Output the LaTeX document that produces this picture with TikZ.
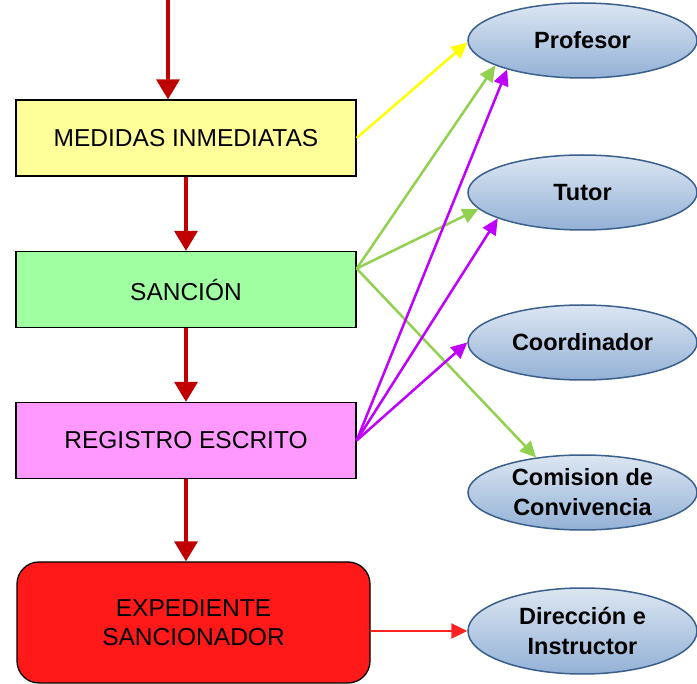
\documentclass[tikz,border=0pt]{standalone}
\usepackage{fontspec}
\setmainfont{Liberation Sans}
\usetikzlibrary{arrows.meta,shapes.geometric}
\definecolor{flowred}{HTML}{C00000}
\definecolor{boxyellow}{HTML}{FFFF99}
\definecolor{boxgreen}{HTML}{A0FFA0}
\definecolor{boxpink}{HTML}{FF99FF}
\definecolor{boxred}{HTML}{FF1919}
\definecolor{elltop}{HTML}{DCE6F2}
\definecolor{ellbot}{HTML}{93B1D6}
\definecolor{ellline}{HTML}{3A5F8C}
\definecolor{linkyellow}{HTML}{FFFF00}
\definecolor{linkgreen}{HTML}{92D050}
\definecolor{linkpurple}{HTML}{BF00FF}
\definecolor{linkred}{HTML}{FF2020}
\tikzset{
  box/.style={draw,line width=1.3pt,minimum width=340pt,minimum height=76pt,
    align=center,font=\fontsize{24.5}{29}\selectfont},
  who/.style={ellipse,draw=ellline,line width=1.5pt,top color=elltop,bottom color=ellbot,
    minimum width=229pt,minimum height=75pt,inner sep=0pt,align=center,
    font=\bfseries\fontsize{23.5}{30}\selectfont},
  flow/.style={draw=flowred,line width=3.5pt,-{Triangle[length=20pt,width=23pt]}},
  link/.style={line width=2.5pt,-{Triangle[length=16pt,width=15pt]}}
}
\begin{document}
\begin{tikzpicture}[x=1pt,y=-1pt]
  \useasboundingbox (0,0) rectangle (697,684);
  % Steps
  \node [box,fill=boxyellow] (med) at (186,138) {MEDIDAS INMEDIATAS};
  \node [box,fill=boxgreen] (san) at (186,289.5) {SANCIÓN};
  \node [box,fill=boxpink] (reg) at (186,440.5) {REGISTRO ESCRITO};
  \node [box,fill=boxred,rounded corners=22pt,minimum width=353pt,minimum height=121pt]
    (exp) at (193.5,622.5) {EXPEDIENTE\\SANCIONADOR};
  % Who
  \node [who] (prof) at (582.5,40.5) {Profesor};
  \node [who] (tut) at (582.5,192.5) {Tutor};
  \node [who] (coord) at (582.5,342.5) {Coordinador};
  \node [who] (com) at (582.5,492.5) {Comision de\\Convivencia};
  \node [who,minimum height=86pt] (dir) at (582.5,631) {Dirección e\\Instructor};
  % Flow
  \coordinate (top) at (168,0);
  \draw [flow] (top) -- (top |- med.north);
  \draw [flow] (med.south) -- (san.north);
  \draw [flow] (san.south) -- (reg.north);
  \draw [flow] (reg.south) -- (reg.south |- exp.north);
  % Links
  \draw [link,linkyellow] (med.east) -- (prof.181);
  \draw [link,linkgreen] (san.7.4) -- (prof.196);
  \draw [link,linkgreen] (san.7.4) -- (tut.189);
  \draw [link,linkgreen] (san.7.4) -- (com.143);
  \draw [link,linkpurple] (reg.east) -- (prof.201);
  \draw [link,linkpurple] (reg.east) -- (tut.197);
  \draw [link,linkpurple] (reg.east) -- (coord.west);
  \draw [link,linkred] (dir.west -| exp.east) -- (dir.west);
\end{tikzpicture}
\end{document}
